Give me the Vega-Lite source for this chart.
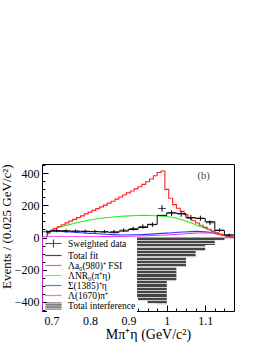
{
  "$schema": "https://vega.github.io/schema/vega-lite/v6.json",
  "width": 192,
  "height": 147,
  "autosize": {"type": "none"},
  "padding": {"left": 42, "top": 164, "right": 32, "bottom": 33},
  "background": "white",
  "config": {
    "view": {"stroke": "black", "strokeWidth": 1},
    "font": "Liberation Serif",
    "axis": {"grid": false, "domain": false, "tickColor": "black", "labelColor": "black", "titleColor": "black"}
  },
  "datasets": {
    "interf": [
      {"lo": 0.6875, "v": -60}, {"lo": 0.7, "v": -110}, {"lo": 0.725, "v": -150}, {"lo": 0.75, "v": -186},
      {"lo": 0.775, "v": -220}, {"lo": 0.8, "v": -255}, {"lo": 0.825, "v": -287}, {"lo": 0.85, "v": -320},
      {"lo": 0.875, "v": -345}, {"lo": 0.9, "v": -371}, {"lo": 0.925, "v": -392}, {"lo": 0.95, "v": -412},
      {"lo": 0.975, "v": -417}, {"lo": 1.0, "v": -271}, {"lo": 1.025, "v": -184}, {"lo": 1.05, "v": -123},
      {"lo": 1.075, "v": -84}, {"lo": 1.1, "v": -46}, {"lo": 1.125, "v": -17}, {"lo": 1.15, "v": -4},
      {"lo": 1.175, "v": -4}
    ],
    "fit": [
      {"lo": 0.6875, "v": 36}, {"lo": 0.7, "v": 42}, {"lo": 0.725, "v": 41}, {"lo": 0.75, "v": 39},
      {"lo": 0.775, "v": 38}, {"lo": 0.8, "v": 36}, {"lo": 0.825, "v": 34}, {"lo": 0.85, "v": 30},
      {"lo": 0.875, "v": 40}, {"lo": 0.9, "v": 50}, {"lo": 0.925, "v": 62}, {"lo": 0.95, "v": 82},
      {"lo": 0.975, "v": 138}, {"lo": 1.0, "v": 154}, {"lo": 1.025, "v": 149}, {"lo": 1.05, "v": 123},
      {"lo": 1.075, "v": 119}, {"lo": 1.1, "v": 98}, {"lo": 1.125, "v": 44}, {"lo": 1.15, "v": 16},
      {"lo": 1.175, "v": 16}
    ],
    "data": [
      {"c": 0.6875, "v": 36, "e": 10}, {"c": 0.7125, "v": 42, "e": 10}, {"c": 0.7375, "v": 41, "e": 10},
      {"c": 0.7625, "v": 40, "e": 10}, {"c": 0.7875, "v": 39, "e": 10}, {"c": 0.8125, "v": 38, "e": 10},
      {"c": 0.8375, "v": 37, "e": 10}, {"c": 0.8625, "v": 37, "e": 10}, {"c": 0.8875, "v": 46, "e": 11},
      {"c": 0.9125, "v": 56, "e": 12}, {"c": 0.9375, "v": 69, "e": 13}, {"c": 0.9625, "v": 80, "e": 14},
      {"c": 0.9875, "v": 181, "e": 20}, {"c": 1.0125, "v": 152, "e": 18}, {"c": 1.0375, "v": 147, "e": 18},
      {"c": 1.0625, "v": 124, "e": 16}, {"c": 1.0875, "v": 120, "e": 16}, {"c": 1.1125, "v": 92, "e": 14},
      {"c": 1.1375, "v": 46, "e": 11}, {"c": 1.1625, "v": 15, "e": 9}
    ],
    "red": [
      {"x": 0.69, "v": 25}, {"x": 0.70, "v": 42}, {"x": 0.71, "v": 55}, {"x": 0.72, "v": 67}, {"x": 0.73, "v": 79},
      {"x": 0.74, "v": 91}, {"x": 0.75, "v": 102}, {"x": 0.76, "v": 113}, {"x": 0.77, "v": 124}, {"x": 0.78, "v": 135},
      {"x": 0.79, "v": 147}, {"x": 0.80, "v": 158}, {"x": 0.81, "v": 169}, {"x": 0.82, "v": 180}, {"x": 0.83, "v": 191},
      {"x": 0.84, "v": 202}, {"x": 0.85, "v": 214}, {"x": 0.86, "v": 226}, {"x": 0.87, "v": 239}, {"x": 0.88, "v": 252},
      {"x": 0.89, "v": 265}, {"x": 0.90, "v": 278}, {"x": 0.91, "v": 290}, {"x": 0.92, "v": 303}, {"x": 0.93, "v": 316},
      {"x": 0.94, "v": 331}, {"x": 0.95, "v": 347}, {"x": 0.96, "v": 365}, {"x": 0.97, "v": 385}, {"x": 0.98, "v": 405},
      {"x": 0.99, "v": 414}, {"x": 1.00, "v": 300}, {"x": 1.01, "v": 245}, {"x": 1.02, "v": 205}, {"x": 1.03, "v": 182},
      {"x": 1.04, "v": 163}, {"x": 1.05, "v": 142}, {"x": 1.06, "v": 120}, {"x": 1.07, "v": 104}, {"x": 1.08, "v": 90},
      {"x": 1.09, "v": 76}, {"x": 1.10, "v": 63}, {"x": 1.11, "v": 51}, {"x": 1.12, "v": 40}, {"x": 1.13, "v": 29},
      {"x": 1.14, "v": 20}, {"x": 1.15, "v": 12}, {"x": 1.16, "v": 7}, {"x": 1.17, "v": 3}
    ],
    "green": [
      {"x": 0.6875, "v": 0}, {"x": 0.69, "v": 25}, {"x": 0.695, "v": 40}, {"x": 0.70, "v": 48}, {"x": 0.72, "v": 64},
      {"x": 0.74, "v": 77}, {"x": 0.76, "v": 89}, {"x": 0.78, "v": 100}, {"x": 0.80, "v": 109}, {"x": 0.82, "v": 117},
      {"x": 0.84, "v": 123}, {"x": 0.86, "v": 128}, {"x": 0.88, "v": 132}, {"x": 0.90, "v": 135}, {"x": 0.92, "v": 137},
      {"x": 0.94, "v": 138}, {"x": 0.96, "v": 137}, {"x": 0.98, "v": 135}, {"x": 1.00, "v": 131}, {"x": 1.02, "v": 123},
      {"x": 1.04, "v": 110}, {"x": 1.06, "v": 93}, {"x": 1.08, "v": 75}, {"x": 1.10, "v": 57}, {"x": 1.12, "v": 39},
      {"x": 1.14, "v": 22}, {"x": 1.16, "v": 8}, {"x": 1.175, "v": 2}
    ],
    "blue": [
      {"x": 0.6875, "v": 0}, {"x": 0.69, "v": 30}, {"x": 0.695, "v": 40}, {"x": 0.70, "v": 41}, {"x": 0.75, "v": 34},
      {"x": 0.80, "v": 26}, {"x": 0.85, "v": 19}, {"x": 0.88, "v": 16}, {"x": 0.92, "v": 17}, {"x": 0.96, "v": 21},
      {"x": 1.00, "v": 27}, {"x": 1.04, "v": 34}, {"x": 1.08, "v": 38}, {"x": 1.10, "v": 36}, {"x": 1.12, "v": 28},
      {"x": 1.14, "v": 17}, {"x": 1.16, "v": 7}, {"x": 1.175, "v": 2}
    ],
    "mag": [
      {"x": 0.6755, "v": -600}, {"x": 0.6756, "v": 5}, {"x": 0.6875, "v": 5}, {"x": 0.75, "v": 5}, {"x": 0.80, "v": 5},
      {"x": 0.85, "v": 6}, {"x": 0.90, "v": 8}, {"x": 0.95, "v": 11}, {"x": 1.00, "v": 16}, {"x": 1.05, "v": 23},
      {"x": 1.08, "v": 28}, {"x": 1.10, "v": 30}, {"x": 1.12, "v": 27}, {"x": 1.14, "v": 18}, {"x": 1.16, "v": 8},
      {"x": 1.175, "v": 3}
    ],
    "label": [{"t": "(b)", "x": 1.096, "y": 383}],
    "legend": [
      {"s": "Sweighted data"}, {"s": "Total fit"}, {"s": "Λa₀(980)⁺ FSI"}, {"s": "ΛNR₀(π⁺η)"},
      {"s": "Σ(1385)⁺η"}, {"s": "Λ(1670)π⁺"}, {"s": "Total interference"}
    ]
  },
  "layer": [
    {
      "data": {"name": "interf"},
      "mark": {
        "type": "area", "interpolate": "step-after", "clip": true,
        "fill": {
          "gradient": "linear", "x1": 0, "y1": 0, "x2": 0, "y2": 1,
          "stops": [
            {"offset": 0, "color": "#454545"}, {"offset": 0.033, "color": "#454545"}, {"offset": 0.033, "color": "#c8c8c8"}, {"offset": 0.05, "color": "#c8c8c8"},
            {"offset": 0.05, "color": "#454545"}, {"offset": 0.083, "color": "#454545"}, {"offset": 0.083, "color": "#c8c8c8"}, {"offset": 0.1, "color": "#c8c8c8"},
            {"offset": 0.1, "color": "#454545"}, {"offset": 0.133, "color": "#454545"}, {"offset": 0.133, "color": "#c8c8c8"}, {"offset": 0.15, "color": "#c8c8c8"},
            {"offset": 0.15, "color": "#454545"}, {"offset": 0.183, "color": "#454545"}, {"offset": 0.183, "color": "#c8c8c8"}, {"offset": 0.2, "color": "#c8c8c8"},
            {"offset": 0.2, "color": "#454545"}, {"offset": 0.233, "color": "#454545"}, {"offset": 0.233, "color": "#c8c8c8"}, {"offset": 0.25, "color": "#c8c8c8"},
            {"offset": 0.25, "color": "#454545"}, {"offset": 0.283, "color": "#454545"}, {"offset": 0.283, "color": "#c8c8c8"}, {"offset": 0.3, "color": "#c8c8c8"},
            {"offset": 0.3, "color": "#454545"}, {"offset": 0.333, "color": "#454545"}, {"offset": 0.333, "color": "#c8c8c8"}, {"offset": 0.35, "color": "#c8c8c8"},
            {"offset": 0.35, "color": "#454545"}, {"offset": 0.383, "color": "#454545"}, {"offset": 0.383, "color": "#c8c8c8"}, {"offset": 0.4, "color": "#c8c8c8"},
            {"offset": 0.4, "color": "#454545"}, {"offset": 0.433, "color": "#454545"}, {"offset": 0.433, "color": "#c8c8c8"}, {"offset": 0.45, "color": "#c8c8c8"},
            {"offset": 0.45, "color": "#454545"}, {"offset": 0.483, "color": "#454545"}, {"offset": 0.483, "color": "#c8c8c8"}, {"offset": 0.5, "color": "#c8c8c8"},
            {"offset": 0.5, "color": "#454545"}, {"offset": 0.533, "color": "#454545"}, {"offset": 0.533, "color": "#c8c8c8"}, {"offset": 0.55, "color": "#c8c8c8"},
            {"offset": 0.55, "color": "#454545"}, {"offset": 0.583, "color": "#454545"}, {"offset": 0.583, "color": "#c8c8c8"}, {"offset": 0.6, "color": "#c8c8c8"},
            {"offset": 0.6, "color": "#454545"}, {"offset": 0.633, "color": "#454545"}, {"offset": 0.633, "color": "#c8c8c8"}, {"offset": 0.65, "color": "#c8c8c8"},
            {"offset": 0.65, "color": "#454545"}, {"offset": 0.683, "color": "#454545"}, {"offset": 0.683, "color": "#c8c8c8"}, {"offset": 0.7, "color": "#c8c8c8"},
            {"offset": 0.7, "color": "#454545"}, {"offset": 0.733, "color": "#454545"}, {"offset": 0.733, "color": "#c8c8c8"}, {"offset": 0.75, "color": "#c8c8c8"},
            {"offset": 0.75, "color": "#454545"}, {"offset": 0.783, "color": "#454545"}, {"offset": 0.783, "color": "#c8c8c8"}, {"offset": 0.8, "color": "#c8c8c8"},
            {"offset": 0.8, "color": "#454545"}, {"offset": 0.833, "color": "#454545"}, {"offset": 0.833, "color": "#c8c8c8"}, {"offset": 0.85, "color": "#c8c8c8"},
            {"offset": 0.85, "color": "#454545"}, {"offset": 0.883, "color": "#454545"}, {"offset": 0.883, "color": "#c8c8c8"}, {"offset": 0.9, "color": "#c8c8c8"},
            {"offset": 0.9, "color": "#454545"}, {"offset": 0.933, "color": "#454545"}, {"offset": 0.933, "color": "#c8c8c8"}, {"offset": 0.95, "color": "#c8c8c8"},
            {"offset": 0.95, "color": "#454545"}, {"offset": 0.983, "color": "#454545"}, {"offset": 0.983, "color": "#c8c8c8"}, {"offset": 1, "color": "#c8c8c8"}
          ]
        }
      },
      "encoding": {
        "x": {
          "field": "lo", "type": "quantitative",
          "scale": {"domain": [0.675, 1.175], "nice": false, "zero": false},
          "axis": {
            "orient": "bottom",
            "values": [0.7, 0.8, 0.9, 1.0, 1.1], "format": "~g", "title": "Mπ⁺η (GeV/c²)",
            "tickSize": -6, "labelFont": "Liberation Serif", "labelFontSize": 12, "labelPadding": 10,
            "labelFlush": false, "titleFont": "Liberation Serif", "titleFontSize": 14, "titleFontWeight": "normal",
            "titlePadding": 1, "titleX": 106
          }
        },
        "y": {
          "field": "v", "type": "quantitative",
          "scale": {"domain": [-458, 458], "nice": false, "zero": false},
          "axis": {
            "orient": "left",
            "values": [-400, -200, 0, 200, 400], "title": "Events / (0.025 GeV/c²)",
            "tickSize": -6, "labelFont": "Liberation Serif", "labelFontSize": 12, "labelPadding": 9,
            "titleFont": "Liberation Serif", "titleFontSize": 13, "titleFontWeight": "normal",
            "titleAnchor": "end", "titleX": -29
          }
        },
        "y2": {"datum": 0}
      }
    },
    {
      "data": {"name": "green"},
      "mark": {"type": "line", "interpolate": "monotone", "color": "#22ee22", "strokeWidth": 1.1, "clip": true},
      "encoding": {
        "x": {"field": "x", "type": "quantitative", "axis": null},
        "y": {"field": "v", "type": "quantitative", "axis": null}
      }
    },
    {
      "data": {"name": "blue"},
      "mark": {"type": "line", "interpolate": "monotone", "color": "#3333ff", "strokeWidth": 1.1, "clip": true},
      "encoding": {
        "x": {"field": "x", "type": "quantitative", "axis": null},
        "y": {"field": "v", "type": "quantitative", "axis": null}
      }
    },
    {
      "data": {"name": "mag"},
      "mark": {"type": "line", "interpolate": "linear", "color": "#ee33ee", "strokeWidth": 1.1, "clip": true},
      "encoding": {
        "x": {"field": "x", "type": "quantitative", "axis": null},
        "y": {"field": "v", "type": "quantitative", "axis": null}
      }
    },
    {
      "data": {"name": "red"},
      "mark": {"type": "line", "interpolate": "step", "color": "#ff2222", "strokeWidth": 1.1, "clip": true},
      "encoding": {
        "x": {"field": "x", "type": "quantitative", "axis": null},
        "y": {"field": "v", "type": "quantitative", "axis": null}
      }
    },
    {
      "data": {"name": "fit"},
      "mark": {"type": "line", "interpolate": "step-after", "color": "black", "strokeWidth": 1, "clip": true},
      "encoding": {
        "x": {"field": "lo", "type": "quantitative", "axis": null},
        "y": {"field": "v", "type": "quantitative", "axis": null}
      }
    },
    {
      "data": {"name": "data"},
      "mark": {"type": "errorbar", "color": "black", "thickness": 1, "clip": true},
      "encoding": {
        "x": {"field": "c", "type": "quantitative", "axis": null},
        "y": {"field": "v", "type": "quantitative", "axis": null},
        "yError": {"field": "e"}
      }
    },
    {
      "data": {"name": "data"},
      "mark": {"type": "tick", "orient": "horizontal", "size": 8, "thickness": 1, "color": "black", "clip": true},
      "encoding": {
        "x": {"field": "c", "type": "quantitative", "axis": null},
        "y": {"field": "v", "type": "quantitative", "axis": null}
      }
    },
    {
      "data": {"name": "label"},
      "mark": {"type": "text", "font": "Liberation Serif", "fontSize": 10.5, "color": "#444444"},
      "encoding": {
        "x": {"field": "x", "type": "quantitative", "axis": null},
        "y": {"field": "y", "type": "quantitative", "axis": null},
        "text": {"field": "t"}
      }
    },
    {
      "data": {"name": "legend"},
      "mark": {"type": "point", "filled": false, "clip": true},
      "encoding": {
        "x": {
          "datum": 0, "type": "quantitative",
          "axis": {
            "orient": "bottom", "labels": false, "title": null, "tickSize": -3,
            "values": [0.725, 0.75, 0.775, 0.825, 0.85, 0.875, 0.925, 0.95, 0.975, 1.025, 1.05, 1.075, 1.125, 1.15]
          }
        },
        "y": {
          "datum": 0, "type": "quantitative",
          "axis": {
            "orient": "left", "labels": false, "title": null, "tickSize": -3,
            "values": [-450, -350, -300, -250, -150, -100, -50, 50, 100, 150, 250, 300, 350, 450]
          }
        },
        "color": {
          "field": "s", "type": "nominal",
          "scale": {
            "domain": ["Sweighted data", "Total fit", "Λa₀(980)⁺ FSI", "ΛNR₀(π⁺η)", "Σ(1385)⁺η", "Λ(1670)π⁺", "Total interference"],
            "range": ["black", "black", "#ff2222", "#22ee22", "#3333ff", "#ee33ee", "#454545"]
          },
          "legend": {
            "orient": "none", "legendX": 5, "legendY": 73, "title": null, "fillColor": "white", "padding": 1,
            "labelFont": "Liberation Serif", "labelFontSize": 9.5, "labelColor": "black", "labelOffset": 9,
            "symbolSize": 81, "symbolStrokeWidth": 1.2, "rowPadding": -0.4
          }
        },
        "shape": {
          "field": "s", "type": "nominal",
          "scale": {
            "domain": ["Sweighted data", "Total fit", "Λa₀(980)⁺ FSI", "ΛNR₀(π⁺η)", "Σ(1385)⁺η", "Λ(1670)π⁺", "Total interference"],
            "range": [
              "M-1.8,0H1.8M0,-0.9V0.9",
              "M-1.8,0H1.8",
              "M-1.8,0H1.8",
              "M-1.8,0H1.8",
              "M-1.8,0H1.8",
              "M-1.8,0H1.8",
              "M-1.8,-0.7H1.8M-1.8,-0.35H1.8M-1.8,0H1.8M-1.8,0.35H1.8M-1.8,0.7H1.8"
            ]
          },
          "legend": {
            "orient": "none", "legendX": 5, "legendY": 73, "title": null, "fillColor": "white", "padding": 1,
            "labelFont": "Liberation Serif", "labelFontSize": 9.5, "labelColor": "black", "labelOffset": 9,
            "symbolSize": 81, "symbolStrokeWidth": 1.2, "rowPadding": -0.4
          }
        }
      }
    }
  ],
  "resolve": {"axis": {"x": "independent", "y": "independent"}}
}
